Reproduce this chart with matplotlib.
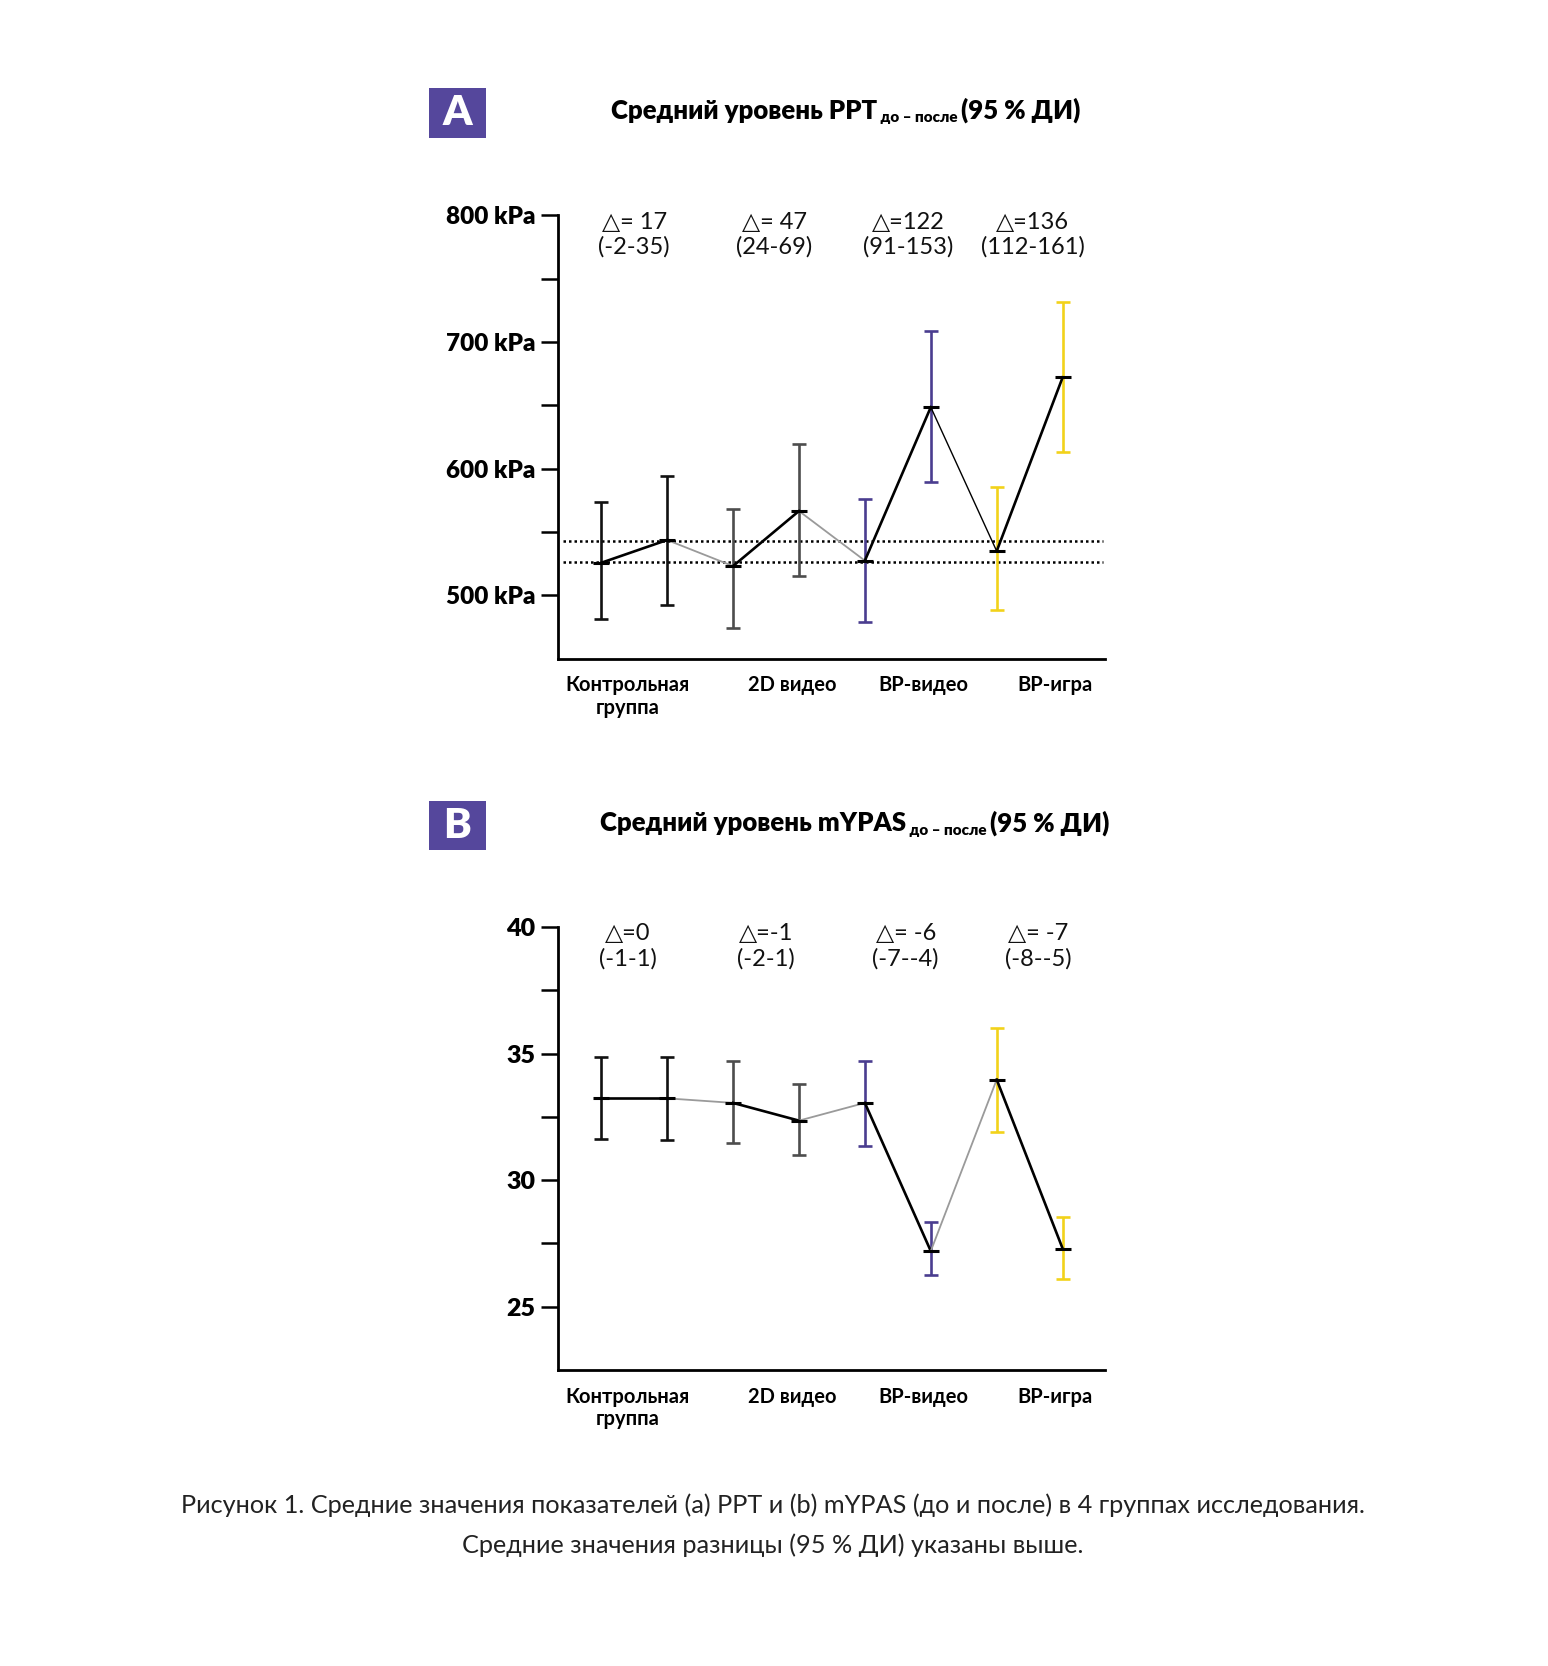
import matplotlib
matplotlib.use("Agg")
import matplotlib.pyplot as plt
from matplotlib.patches import Rectangle

plt.rcParams["font.family"] = ["Lato", "DejaVu Sans"]

# PPT, kPa (before/after for each of 4 groups)
ppt_mean = [525.6, 543.6, 523.0, 566.5, 527.3, 648.5, 534.8, 672.0]
ppt_low = [481.5, 492.3, 474.0, 515.0, 479.0, 589.5, 488.0, 612.8]
ppt_high = [573.5, 593.8, 568.0, 619.5, 576.0, 709.0, 585.3, 731.8]
ppt_ref = [542.6, 526.4]
ppt_delta = ["△= 17", "△= 47", "△=122", "△=136"]
ppt_ci = ["(-2-35)", "(24-69)", "(91-153)", "(112-161)"]
ppt_ticks = [500, 600, 700, 800]
ppt_ticklabels = ["500 kPa", "600 kPa", "700 kPa", "800 kPa"]

# mYPAS
ypas_mean = [33.23, 33.23, 33.05, 32.35, 33.05, 27.2, 33.97, 27.3]
ypas_low = [31.62, 31.6, 31.45, 31.0, 31.35, 26.25, 31.9, 26.1]
ypas_high = [34.87, 34.85, 34.7, 33.78, 34.7, 28.35, 36.0, 28.55]
ypas_delta = ["△=0", "△=-1", "△= -6", "△= -7"]
ypas_ci = ["(-1-1)", "(-2-1)", "(-7--4)", "(-8--5)"]
ypas_ticks = [25, 30, 35, 40]
ypas_ticklabels = ["25", "30", "35", "40"]

groups = ["Контрольная\nгруппа", "2D видео", "ВР-видео", "ВР-игра"]
group_colors = ["#111111", "#4d4d4d", "#4a3d8f", "#f2d21a"]

W, H = 1460, 1571  # layout measured in these units


def fx(px):
    return px / W


def fy(py):
    return 1 - py / H


fig = plt.figure(figsize=(15.48, 16.66), dpi=100)


def draw_panel(ax, mean, low, high, ylim, ticks, ticklabels, minor, deltas,
               cis, delta_x, label_x, mid_black, tick_fs):
    x = list(range(len(mean)))
    # connectors
    for i in range(len(mean) - 1):
        if i % 2 == 0:
            ax.plot(x[i:i + 2], mean[i:i + 2], color="black", lw=1.9, zorder=3)
        elif i == 5 and mid_black:
            ax.plot(x[i:i + 2], mean[i:i + 2], color="black", lw=1.0, zorder=3)
        else:
            ax.plot(x[i:i + 2], mean[i:i + 2], color="#9a9a9a", lw=1.3, zorder=3)
    for i in range(len(mean)):
        c = group_colors[i // 2]
        ax.errorbar(x[i], mean[i],
                    yerr=[[mean[i] - low[i]], [high[i] - mean[i]]],
                    fmt="none", ecolor=c, elinewidth=1.9, capsize=5,
                    capthick=1.9, zorder=2)
        ax.plot(x[i], mean[i], marker="_", ms=12, mew=2.2, color="black",
                zorder=4)
    ax.set_xlim(-0.66, 7.64)
    ax.set_ylim(*ylim)
    ax.set_yticks(ticks)
    ax.set_yticklabels(ticklabels, fontsize=tick_fs, fontweight="heavy")
    ax.set_yticks(minor, minor=True)
    ax.tick_params(axis="y", which="both", length=12, width=1.8, pad=4)
    ax.set_xticks(label_x)
    ax.set_xticklabels(groups, fontsize=14.5, fontweight="bold",
                       linespacing=1.15)
    ax.tick_params(axis="x", length=0, pad=12)
    for s in ["top", "right"]:
        ax.spines[s].set_visible(False)
    for s in ["left", "bottom"]:
        ax.spines[s].set_linewidth(2)
    tr = ax.get_xaxis_transform()
    for dx, d, ci in zip(delta_x, deltas, cis):
        ax.text(dx, 0.984, d, transform=tr, ha="center", va="center",
                fontsize=17, color="#111111")
        ax.text(dx, 0.928, ci, transform=tr, ha="center", va="center",
                fontsize=17, color="#111111")


def draw_header(letter, y_box_top, title_main, title_x, title_y):
    fig.patches.append(Rectangle((fx(405), fy(y_box_top + 47)), fx(53), 47 / H,
                                 transform=fig.transFigure,
                                 facecolor="#55479c", edgecolor="none"))
    fig.text(fx(431.5), fy(y_box_top + 23.5), letter, ha="center", va="center",
             color="white", fontsize=30, fontweight="heavy")
    t1 = fig.text(fx(title_x), fy(title_y), title_main, ha="left",
                  va="baseline", fontsize=18.5, fontweight="heavy")
    t2 = fig.text(0, 0, " до – после ", fontsize=11, fontweight="heavy",
                  va="baseline", ha="left")
    t3 = fig.text(0, 0, "(95 % ДИ)", fontsize=18.5, fontweight="heavy",
                  va="baseline", ha="left")
    fig.canvas.draw()
    r = fig.canvas.get_renderer()
    inv = fig.transFigure.inverted()
    b1 = t1.get_window_extent(r)
    x1 = inv.transform((b1.x1, 0))[0]
    t2.set_position((x1, fy(title_y) - 0.002))
    b2 = t2.get_window_extent(r)
    x2 = inv.transform((b2.x1, 0))[0]
    t3.set_position((x2, fy(title_y)))


ax_a = fig.add_axes([fx(526), fy(621), fx(1042 - 526), (621 - 203) / H])
draw_panel(ax_a, ppt_mean, ppt_low, ppt_high, (450, 800), ppt_ticks,
           ppt_ticklabels, [550, 650, 750], ppt_delta, ppt_ci,
           [0.5, 2.63, 4.66, 6.55], [0.4, 2.9, 4.88, 6.89], True, 17.5)
for yv in ppt_ref:
    ax_a.plot([-0.58, 7.62], [yv, yv], color="black", lw=1.8,
              linestyle=(0, (1, 1.2)), zorder=1)

ax_b = fig.add_axes([fx(526), fy(1292), fx(1042 - 526), (1292 - 874) / H])
draw_panel(ax_b, ypas_mean, ypas_low, ypas_high, (22.5, 40), ypas_ticks,
           ypas_ticklabels, [27.5, 32.5, 37.5], ypas_delta, ypas_ci,
           [0.4, 2.5, 4.62, 6.63], [0.4, 2.9, 4.88, 6.89], False, 18)

draw_header("A", 83, "Средний уровень PPT", 576, 112)
draw_header("B", 755, "Средний уровень mYPAS", 566, 784)

fig.text(0.4993, fy(1438),
         "Рисунок 1. Средние значения показателей (a) PPT и (b) mYPAS (до и после) "
         "в 4 группах исследования.\nСредние значения разницы (95 % ДИ) указаны выше.",
         ha="center", va="center", fontsize=18.2, linespacing=1.85,
         color="#222222")

fig.savefig("out.png", dpi=100, facecolor="white")
